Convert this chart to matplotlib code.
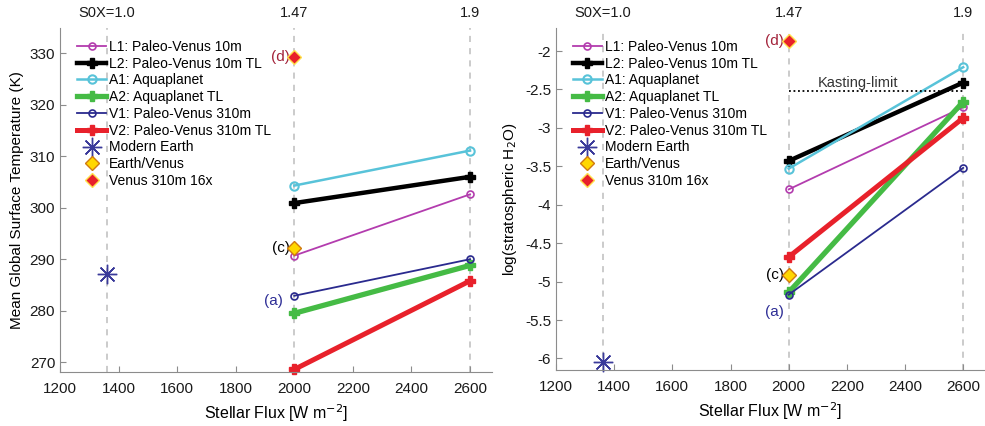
import numpy as np
import matplotlib.pyplot as plt
from matplotlib.lines import Line2D

plt.rcParams['font.family'] = ['Liberation Sans', 'DejaVu Sans']
plt.rcParams['axes.unicode_minus'] = False

# flux values of the two simulated points
flux = [2000, 2600]
s0x_flux = [1361, 2000, 2600]
s0x_labels = ["S0X=1.0", "1.47", "1.9"]

# mean global surface temperature (K)
T_L1 = [290.7, 302.6]
T_L2 = [300.9, 306.0]
T_A1 = [304.3, 311.1]
T_A2 = [279.5, 288.8]
T_V1 = [282.9, 290.0]
T_V2 = [268.6, 285.8]
T_earth = (1361, 287.1)
T_c = (2000, 292.1)
T_d = (2000, 329.2)
T_a_label = (1962, 281.8)

# log(stratospheric H2O)
W_L1 = [-3.80, -2.73]
W_L2 = [-3.43, -2.41]
W_A1 = [-3.53, -2.21]
W_A2 = [-5.14, -2.66]
W_V1 = [-5.17, -3.52]
W_V2 = [-4.68, -2.87]
W_earth = (1361, -6.05)
W_c = (2000, -4.92)
W_d = (2000, -1.87)
W_a_label = (1985, -5.40)
kasting = -2.52

names = ["L1: Paleo-Venus 10m", "L2: Paleo-Venus 10m TL", "A1: Aquaplanet",
         "A2: Aquaplanet TL", "V1: Paleo-Venus 310m", "V2: Paleo-Venus 310m TL"]
styles = [
    dict(color="#b33cae", lw=1.3, marker="o", ms=5, mfc="none", mew=1.2),
    dict(color="black", lw=3.2, marker="P", ms=7),
    dict(color="#58c3d9", lw=1.8, marker="o", ms=6, mfc="none", mew=1.5),
    dict(color="#45bb45", lw=3.8, marker="P", ms=7),
    dict(color="#2a2a8e", lw=1.3, marker="o", ms=5, mfc="none", mew=1.2),
    dict(color="#e8212b", lw=3.6, marker="P", ms=7),
]
earth_style = dict(marker=(8, 2, 0), color="#3a3a9a", ms=14, mew=1.0, ls="none")
c_style = dict(marker="D", mfc="#ffd700", mec="#d07a10", ms=7, mew=1.0, ls="none")
d_style = dict(marker="D", mfc="#e8212b", mec="#ffe14d", ms=7, mew=1.0, ls="none")

fig = plt.figure(figsize=[9.85, 4.26], dpi=100)
ax1 = fig.add_axes([60/985, 54/426, 432/985, 344/426])
ax2 = fig.add_axes([556/985, 56/426, 429/985, 342/426])


def style_axes(ax):
    for s in ["top", "right"]:
        ax.spines[s].set_visible(False)
    for s in ["left", "bottom"]:
        ax.spines[s].set_color("#8c8c8c")
    ax.tick_params(direction="in", length=4, color="#8c8c8c", labelsize=11,
                   labelcolor="#1a1a1a")
    ax.tick_params(axis="x", pad=7)
    ax.set_xlim(1200, 2675)
    ax.set_xticks(np.arange(1200, 2601, 200))
    for f in s0x_flux:
        ax.axvline(f, color="#bdbdbd", ls=(0, (4, 4)), lw=1.1, zorder=0)
    top = ax.twiny()
    top.set_xlim(ax.get_xlim())
    top.set_xticks(s0x_flux)
    top.set_xticklabels(s0x_labels)
    top.tick_params(length=0, labelsize=10.5, pad=6, labelcolor="#1a1a1a")
    for s in top.spines.values():
        s.set_visible(False)
    ax.set_xlabel("Stellar Flux [W m$^{-2}$]", fontsize=11.5, labelpad=5)


def legend(ax):
    handles = [Line2D([], [], **st) for st in styles]
    handles += [Line2D([], [], **earth_style), Line2D([], [], **c_style),
                Line2D([], [], **d_style)]
    labels = names + ["Modern Earth", "Earth/Venus", "Venus 310m 16x"]
    ax.legend(handles, labels, loc="upper left", bbox_to_anchor=(0.02, 0.99),
              frameon=False, fontsize=10, handlelength=2.1, handletextpad=0.2,
              labelspacing=0.2, borderaxespad=0.2)


# left panel: temperature
for ys, st in zip([T_L1, T_L2, T_A1, T_A2, T_V1, T_V2], styles):
    ax1.plot(flux, ys, **st, clip_on=False)
ax1.plot(*T_earth, **earth_style)
ax1.plot(*T_c, **c_style, zorder=5)
ax1.plot(*T_d, **d_style, zorder=5)
ax1.text(T_d[0] - 15, T_d[1], "(d)", color="#a3233a", fontsize=11, ha="right", va="center")
ax1.text(T_c[0] - 15, T_c[1], "(c)", color="black", fontsize=11, ha="right", va="center")
ax1.text(*T_a_label, "(a)", color="#2e2e96", fontsize=11, ha="right", va="center")
style_axes(ax1)
ax1.set_ylim(268.1, 334.9)
ax1.set_yticks(np.arange(270, 331, 10))
ax1.set_ylabel("Mean Global Surface Temperature (K)", fontsize=11, labelpad=4)
legend(ax1)

# right panel: stratospheric water
for ys, st in zip([W_L1, W_L2, W_A1, W_A2, W_V1, W_V2], styles):
    ax2.plot(flux, ys, **st)
ax2.plot(*W_earth, **earth_style, clip_on=False)
ax2.plot(*W_c, **c_style, zorder=5)
ax2.plot(*W_d, **d_style, zorder=5)
ax2.plot(flux, [kasting, kasting], color="black", ls=(0, (1, 1.5)), lw=1.3)
ax2.text(2240, kasting + 0.11, "Kasting-limit", fontsize=10.5, color="#333333",
         ha="center", va="center")
ax2.text(W_d[0] - 15, W_d[1], "(d)", color="#a3233a", fontsize=11, ha="right", va="center")
ax2.text(W_c[0] - 15, W_c[1], "(c)", color="black", fontsize=11, ha="right", va="center")
ax2.text(*W_a_label, "(a)", color="#2e2e96", fontsize=11, ha="right", va="center")
style_axes(ax2)
ax2.set_ylim(-6.15, -1.70)
ax2.set_yticks(np.arange(-6, -1.99, 0.5))
ax2.set_yticklabels(["-6", "-5.5", "-5", "-4.5", "-4", "-3.5", "-3", "-2.5", "-2"])
ax2.set_ylabel("log(stratospheric H$_2$O)", fontsize=11, labelpad=4)
legend(ax2)

fig.savefig("out.png", dpi=100)
